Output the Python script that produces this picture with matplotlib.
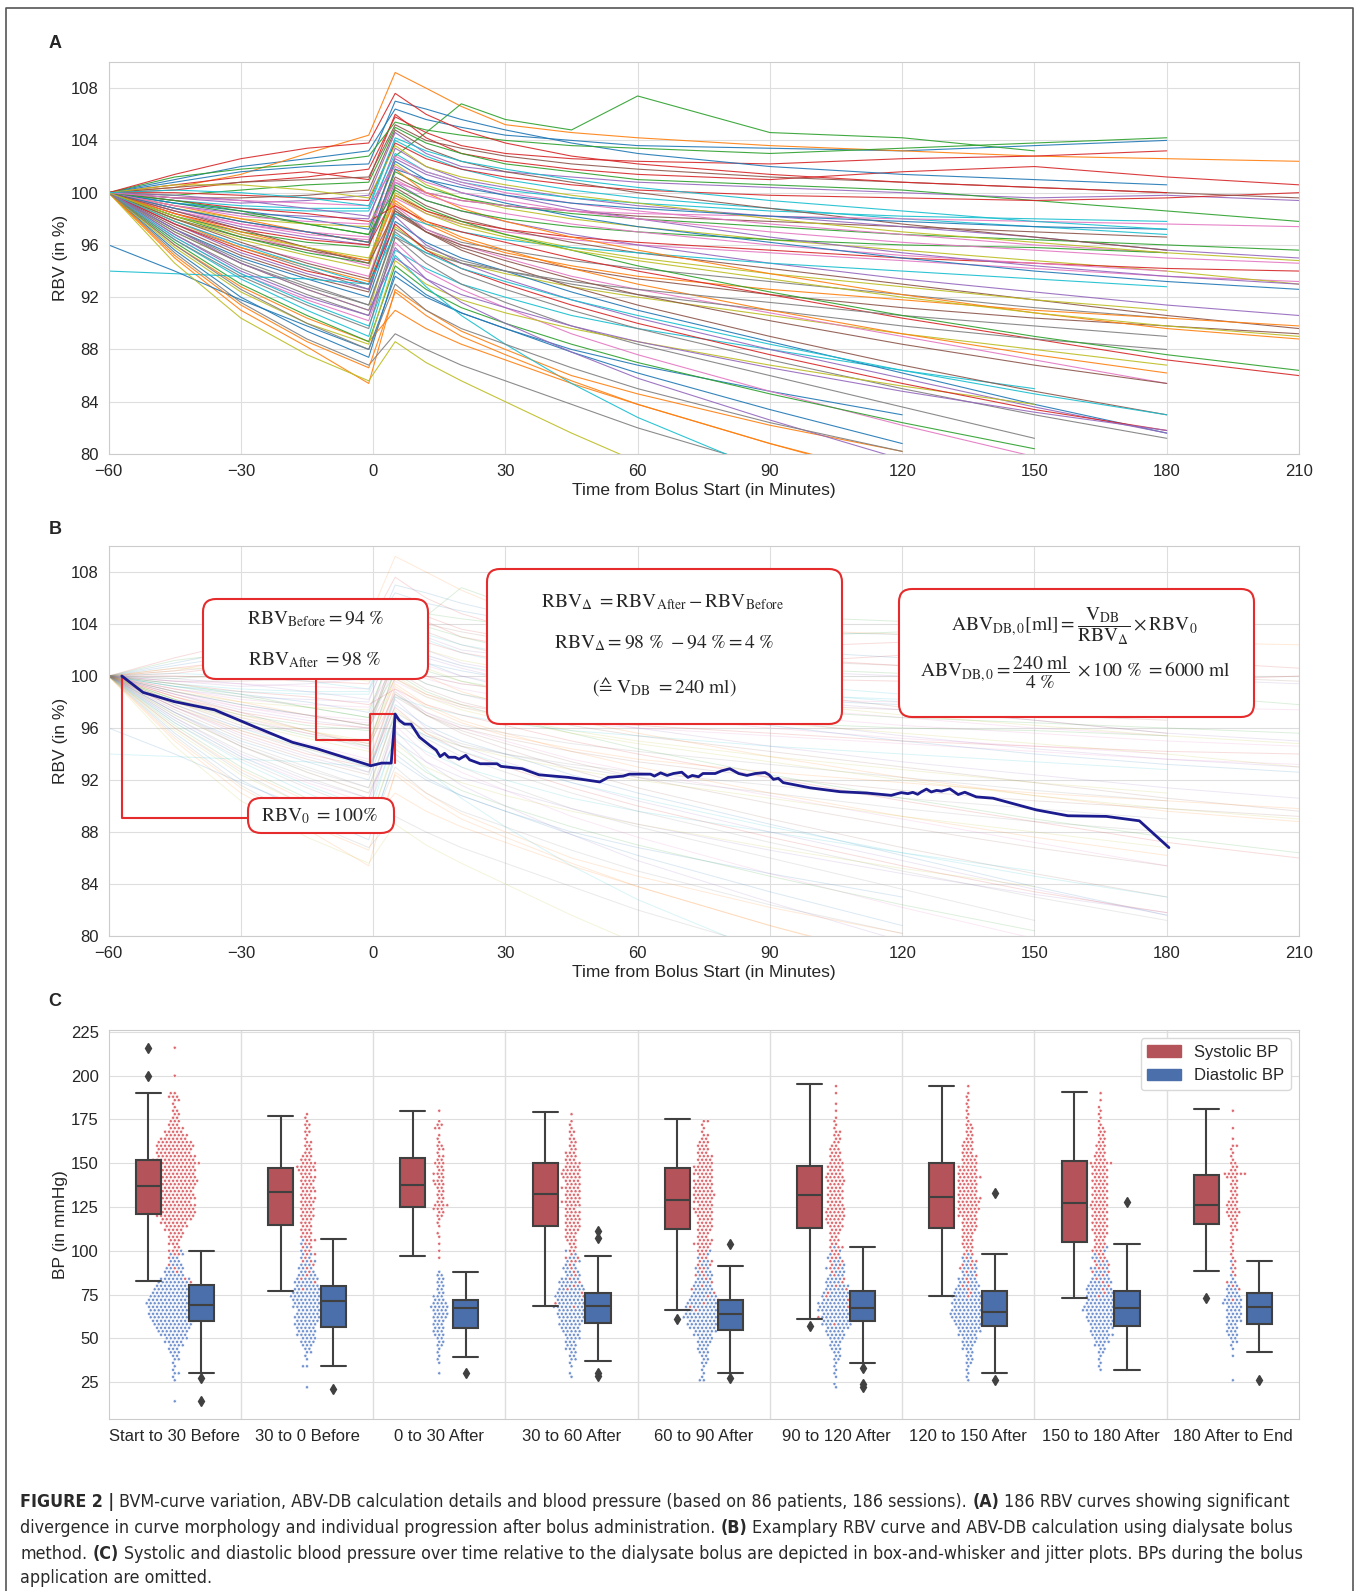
import numpy as np
import pandas as pd
import matplotlib
matplotlib.use("Agg")
import matplotlib.pyplot as plt
import seaborn as sns
from matplotlib import font_manager
from matplotlib.patches import FancyBboxPatch, Patch
from matplotlib.lines import Line2D

nan = np.nan
W, H = 1358, 1591

# RBV curves (panel A, grey background in B), values at these times
rbv_times = [-60, -45, -30, -15, -1, 5, 12, 20, 30, 45, 60, 90, 120, 150, 180, 210]
rbv_curves = [
    [100, 101.0, 102.0, 102.6, 103.2, 106.4, 105.6, 105.0, 104.4, 104.0, 103.6, 103.4, 103.2, 103.6, 104.0, nan],
    [100, 100.4, 101.4, 103.0, 104.4, 109.2, 108.0, 106.6, 105.2, 104.6, 104.2, 103.6, 103.2, 102.8, 102.6, 102.4],
    [100, 99.2, 98.4, 97.6, 96.8, 102.8, 104.6, 106.8, 105.6, 104.8, 107.4, 104.6, 104.2, 103.2, nan, nan],
    [100, 100.6, 101.2, 101.6, 101.0, 106.0, 104.2, 103.0, 102.4, 101.8, 101.4, 101.0, 101.6, 102.0, 101.2, 100.6],
    [100, 99.6, 99.2, 99.4, 99.8, 104.6, 103.0, 102.0, 101.6, 101.2, 100.8, 100.4, 100.0, 99.6, 99.8, 99.4],
    [100, 98.8, 97.8, 97.0, 96.2, 101.2, 100.0, 99.4, 99.0, 98.6, 98.2, 97.8, 97.4, 97.0, 96.6, nan],
    [100, 98.4, 96.8, 95.6, 94.4, 99.6, 98.4, 97.6, 97.0, 96.4, 96.0, 95.4, 94.8, 94.2, 93.6, 93.2],
    [100, 97.6, 95.8, 94.2, 92.6, 98.6, 97.2, 96.2, 95.6, 94.8, 94.2, 93.2, 92.2, 91.2, 90.4, nan],
    [100, 97.0, 94.6, 92.6, 91.0, 97.4, 95.6, 94.6, 93.8, 92.8, 92.0, 90.6, 89.2, 88.0, 86.8, nan],
    [100, 96.4, 93.4, 91.0, 89.0, 95.6, 94.2, 93.0, 92.0, 90.6, 89.6, 88.0, 86.4, 85.0, nan, nan],
    [100, 95.6, 92.0, 89.4, 87.4, 94.0, 92.2, 90.8, 89.6, 88.0, 86.8, 84.8, 83.0, nan, nan, nan],
    [100, 95.0, 91.0, 88.2, 85.4, 92.6, 91.0, 89.4, 88.0, 86.0, 84.6, 82.2, 80.2, nan, nan, nan],
    [100, 99.8, 100.2, 100.6, 100.8, 105.0, 103.8, 103.0, 102.2, 101.6, 101.0, 100.6, 100.2, 99.4, 98.6, 97.8],
    [100, 100.2, 100.8, 101.2, 101.8, 105.8, 104.6, 103.6, 103.0, 102.6, 102.4, 102.2, 102.6, 102.8, 103.2, nan],
    [100, 99.0, 98.4, 98.2, 98.0, 103.4, 102.0, 101.0, 100.4, 99.6, 99.0, 98.2, 97.4, 96.6, 95.6, 95.0],
    [100, 98.0, 96.6, 95.6, 94.8, 100.4, 99.0, 98.0, 97.2, 96.2, 95.4, 94.2, 93.0, 91.8, 90.6, 89.6],
    [100, 97.8, 96.0, 94.8, 93.6, 99.0, 97.2, 96.0, 95.0, 93.6, 92.6, 90.8, 89.0, 87.2, 85.4, nan],
    [100, 96.8, 94.2, 92.2, 90.6, 96.6, 94.6, 93.0, 91.6, 89.8, 88.4, 86.0, 83.6, 81.2, nan, nan],
    [100, 98.8, 98.0, 97.6, 97.4, 102.2, 100.6, 99.6, 98.8, 98.0, 97.4, 96.4, 95.6, 94.8, 94.0, 93.0],
    [100, 99.4, 99.0, 98.8, 98.8, 104.0, 102.8, 101.8, 101.0, 100.2, 99.6, 98.8, 98.0, 97.4, 96.8, nan],
    [100, 97.2, 95.0, 93.4, 92.0, 97.8, 96.2, 95.0, 94.0, 92.4, 91.0, 88.6, 86.2, 83.8, 81.6, nan],
    [100, 96.0, 92.8, 90.4, 88.6, 91.0, 89.6, 88.4, 87.2, 85.4, 83.8, 80.8, 78.0, nan, nan, nan],
    [100, 98.2, 97.0, 96.2, 95.8, 101.6, 100.4, 99.6, 99.0, 98.4, 98.0, 97.4, 96.8, 96.4, 96.0, 95.6],
    [100, 100.0, 99.8, 99.6, 99.4, 103.8, 102.6, 101.8, 101.2, 100.6, 100.2, 99.8, 99.6, 99.4, 99.6, 100.0],
    [100, 98.6, 97.4, 96.6, 96.0, 100.8, 99.4, 98.6, 97.8, 96.8, 96.0, 94.6, 93.4, 92.4, 91.4, 90.6],
    [100, 97.4, 95.2, 93.6, 92.4, 98.4, 97.0, 96.0, 95.2, 94.2, 93.4, 92.2, 91.2, 90.4, 89.8, 89.2],
    [100, 96.6, 93.8, 91.8, 90.2, 96.2, 94.0, 92.6, 91.2, 89.2, 87.6, 84.8, 82.2, 79.8, nan, nan],
    [100, 95.4, 91.6, 88.8, 86.8, 89.2, 88.0, 86.8, 85.6, 83.8, 82.0, 79.0, nan, nan, nan, nan],
    [100, 98.0, 96.4, 95.2, 94.2, 100.0, 98.6, 97.6, 96.8, 95.8, 95.0, 93.8, 92.8, 91.8, 91.0, nan],
    [100, 99.2, 98.8, 98.6, 98.6, 103.0, 101.6, 100.8, 100.2, 99.6, 99.2, 98.6, 98.2, 98.0, 97.8, nan],
    [100, 100.8, 101.6, 102.0, 102.2, 107.0, 106.4, 105.6, 104.8, 103.8, 103.0, 102.0, 101.4, 101.0, 100.6, nan],
    [100, 97.8, 95.8, 94.4, 93.2, 99.2, 97.6, 96.4, 95.4, 94.4, 93.6, 92.6, 91.8, 91.0, 90.4, 89.8],
    [100, 96.2, 93.0, 90.6, 88.6, 94.4, 92.6, 91.2, 90.0, 88.4, 87.0, 84.6, 82.4, 80.4, nan, nan],
    [100, 98.4, 97.2, 96.4, 96.0, 99.8, 98.6, 97.8, 97.2, 96.6, 96.2, 95.6, 95.0, 94.6, 94.2, 94.0],
    [100, 97.6, 95.4, 93.8, 92.6, 98.2, 96.0, 94.6, 93.4, 91.8, 90.4, 88.0, 85.8, 83.6, 81.6, nan],
    [100, 99.6, 99.6, 99.8, 100.2, 104.8, 103.4, 102.4, 101.6, 100.8, 100.0, 98.8, 97.6, 96.6, 95.6, nan],
    [100, 98.8, 97.6, 96.8, 96.4, 102.8, 101.6, 100.8, 100.0, 99.2, 98.6, 97.6, 96.8, 96.0, 95.4, nan],
    [100, 97.2, 94.8, 93.0, 91.4, 97.0, 95.2, 93.8, 92.6, 91.0, 89.6, 87.2, 85.0, 83.0, 81.2, nan],
    [100, 95.8, 92.4, 90.0, 88.4, 94.8, 93.0, 91.8, 90.8, 89.6, 88.6, 86.8, 85.2, 83.8, nan, nan],
    [94.0, 93.8, 93.6, 93.4, 93.0, 98.4, 97.6, 97.0, 96.4, 95.8, 95.4, 94.6, 94.0, 93.4, 92.8, nan],
    [96.0, 94.0, 91.8, 89.8, 88.0, 93.6, 92.0, 90.8, 89.6, 87.8, 86.2, 83.4, 80.8, nan, nan, nan],
    [100, 99.0, 98.0, 97.0, 96.2, 101.8, 100.0, 98.8, 97.8, 96.6, 95.6, 93.8, 92.2, 90.8, 89.6, 88.8],
    [100, 98.2, 96.6, 95.4, 94.6, 100.6, 99.4, 98.6, 98.0, 97.4, 97.0, 96.4, 96.0, 95.8, 95.4, nan],
    [100, 99.4, 98.8, 98.4, 97.8, 99.0, 97.8, 97.0, 96.2, 95.0, 94.0, 92.2, 90.4, 88.8, 87.2, 86.0],
    [100, 96.8, 94.0, 92.0, 90.6, 95.8, 93.4, 91.6, 90.0, 87.8, 85.8, 82.6, 79.6, nan, nan, nan],
    [100, 100.4, 100.8, 101.0, 101.2, 105.2, 104.0, 103.4, 102.8, 102.2, 101.8, 101.2, 100.8, 100.4, 100.0, 99.6],
    [100, 98.6, 97.6, 97.0, 96.6, 101.0, 99.8, 99.0, 98.4, 97.6, 97.0, 96.0, 95.2, 94.6, 94.0, nan],
    [100, 97.0, 94.6, 92.8, 91.4, 97.2, 95.8, 94.8, 94.0, 93.0, 92.2, 91.0, 89.8, 88.8, 88.0, nan],
    [100, 94.6, 90.4, 87.6, 85.6, 88.6, 87.0, 85.6, 84.0, 81.6, 79.4, nan, nan, nan, nan, nan],
    [100, 96.6, 93.8, 91.6, 89.8, 95.2, 92.8, 90.6, 88.4, 85.4, 82.8, 78.6, nan, nan, nan, nan],
    [100, 99.2, 98.6, 98.0, 97.2, 102.4, 101.0, 100.0, 99.2, 98.2, 97.4, 96.2, 95.0, 94.0, 93.2, 92.6],
    [100, 98.4, 97.0, 95.8, 94.8, 99.4, 97.8, 96.6, 95.6, 94.2, 93.0, 91.0, 89.2, 87.6, 86.2, nan],
    [100, 101.2, 101.8, 102.2, 102.8, 105.4, 104.8, 104.4, 104.0, 103.6, 103.4, 103.0, 103.4, 103.8, 104.2, nan],
    [100, 97.6, 95.6, 94.0, 93.0, 97.6, 95.6, 94.2, 93.0, 91.4, 90.0, 87.6, 85.4, 83.4, 81.8, nan],
    [100, 99.8, 99.4, 98.8, 98.2, 102.6, 101.4, 100.6, 99.8, 98.8, 98.0, 96.6, 95.4, 94.4, 93.6, 93.0],
    [100, 98.0, 96.2, 94.6, 93.4, 98.8, 97.0, 95.6, 94.4, 92.8, 91.4, 89.0, 86.8, 84.8, 83.0, nan],
    [100, 99.0, 98.2, 97.8, 97.6, 100.8, 100.0, 99.4, 99.0, 98.6, 98.4, 98.2, 98.0, 97.8, 97.6, 97.4],
    [100, 96.4, 93.6, 91.4, 89.6, 96.6, 95.4, 94.6, 94.0, 93.2, 92.6, 91.6, 90.6, 89.8, 89.0, nan],
    [100, 100.6, 100.6, 100.2, 99.6, 103.6, 102.0, 101.2, 100.6, 99.8, 99.2, 98.0, 97.0, 96.2, 95.4, 94.8],
    [100, 97.8, 96.0, 94.4, 93.0, 96.8, 95.4, 94.2, 93.2, 91.8, 90.6, 88.4, 86.4, 84.6, 83.0, nan],
    [100, 98.8, 97.8, 97.0, 96.2, 101.8, 101.0, 100.4, 99.8, 99.2, 98.8, 98.2, 97.8, 97.4, 97.2, nan],
    [100, 95.2, 91.4, 88.6, 86.6, 92.4, 90.6, 89.0, 87.6, 85.6, 83.8, 80.8, 78.2, nan, nan, nan],
    [100, 99.4, 98.6, 97.6, 96.8, 100.2, 98.8, 97.8, 96.8, 95.6, 94.4, 92.4, 90.6, 89.0, 87.6, 86.4],
    [100, 101.4, 102.6, 103.4, 103.8, 107.6, 106.0, 104.8, 103.8, 102.8, 102.2, 101.4, 100.8, 100.4, 100.0, nan],
    [100, 97.2, 94.6, 92.6, 91.0, 95.0, 93.4, 92.2, 91.2, 89.8, 88.6, 86.6, 84.8, 83.2, 81.8, nan],
    [100, 98.6, 97.2, 95.8, 94.6, 98.6, 97.0, 95.8, 94.8, 93.4, 92.2, 90.2, 88.4, 86.8, 85.4, nan],
    [100, 99.6, 99.4, 99.2, 99.0, 102.0, 100.8, 100.0, 99.4, 98.6, 98.0, 97.0, 96.2, 95.6, 95.0, 94.6],
    [100, 96.0, 92.6, 90.0, 88.0, 93.0, 91.0, 89.6, 88.4, 86.6, 85.0, 82.4, 80.2, nan, nan, nan],
    [100, 98.2, 96.8, 95.8, 95.0, 99.8, 98.4, 97.4, 96.6, 95.6, 94.8, 93.4, 92.0, 90.8, 89.8, 89.0],
    [100, 100.2, 100.0, 99.6, 99.0, 104.2, 103.2, 102.4, 101.8, 101.0, 100.4, 99.4, 98.6, 97.8, 97.2, nan],
]

# example curve (panel B)
ex_t = [-57, -52.2, -45.1, -36, -26.9, -18.3, -12.7, -0.5, 1.9, 4.1, 5.0, 5.9, 7.1, 8.6, 10.5,
        12.9, 14.3, 15.2, 16.2, 17.1, 18.6, 19.5, 21.0, 21.9, 24.3, 28.1, 29.0, 33.8, 37.6, 44.3,
        51.4, 53.3, 56.7, 58.1, 62.9, 63.8, 65.2, 66.7, 68.1, 70.0, 71.4, 72.4, 73.8, 74.8, 77.6,
        79.0, 80.9, 82.9, 84.8, 86.7, 88.9, 89.8, 90.8, 91.9, 93.0, 99.1, 105.9, 111.9, 117.5, 119.8,
        121.3, 122.4, 123.5, 124.3, 125.5, 126.6, 127.8, 128.9, 130.8, 132.7, 134.2, 136.8, 140.6,
        150.4, 157.6, 166.3, 173.8, 180.5]
ex_v = [100.0, 98.74, 98.03, 97.4, 96.1, 94.9, 94.4, 93.1, 93.3, 93.3, 97.07, 96.6, 96.3, 96.3, 95.3,
        94.65, 94.3, 93.8, 94.05, 93.75, 93.75, 93.6, 93.9, 93.55, 93.25, 93.25, 93.05, 92.87, 92.4, 92.2,
        91.85, 92.2, 92.3, 92.45, 92.45, 92.3, 92.55, 92.35, 92.5, 92.6, 92.2, 92.35, 92.25, 92.5, 92.5,
        92.7, 92.87, 92.5, 92.35, 92.5, 92.57, 92.4, 92.05, 92.13, 91.8, 91.4, 91.1, 91.0, 90.82, 91.03,
        90.95, 91.05, 90.9, 91.08, 91.3, 91.08, 91.2, 91.14, 91.32, 90.88, 91.06, 90.7, 90.6,
        89.7, 89.25, 89.2, 88.86, 86.8]

# panel C
periods = ["Start to 30 Before", "30 to 0 Before", "0 to 30 After", "30 to 60 After",
           "60 to 90 After", "90 to 120 After", "120 to 150 After", "150 to 180 After",
           "180 After to End"]

sys_med = [137, 133.6, 137.4, 132.6, 129.0, 131.7, 130.9, 127.1, 126.0]
sys_q1 = [120.9, 114.8, 124.9, 114.1, 112.6, 112.8, 112.8, 105.0, 115.2]
sys_q3 = [151.9, 147.0, 153.1, 150.0, 147.0, 148.5, 150.4, 151.0, 143.0]
sys_lo = [83.0, 77.0, 97.0, 68.3, 66.0, 60.9, 74.2, 73.0, 88.2]
sys_hi = [190.3, 176.9, 180.1, 179.0, 175.0, 195.1, 194.1, 190.9, 181.1]
sys_fliers = [[200, 216], [], [], [], [61], [57], [], [], [73]]

dia_med = [69.2, 71.1, 67.3, 68.3, 64.1, 67.2, 65.1, 67.2, 67.7]
dia_q1 = [60.0, 56.6, 55.6, 59.0, 54.7, 60.0, 57.1, 57.1, 58.1]
dia_q3 = [80.2, 79.8, 72.0, 76.0, 72.1, 77.0, 76.8, 77.0, 75.9]
dia_lo = [30.1, 34.2, 39.3, 37.1, 30.1, 36.1, 30.1, 32.0, 42.0]
dia_hi = [100.1, 106.9, 88.0, 97.0, 91.2, 102.0, 98.0, 103.9, 94.2]
dia_fliers = [[27.5, 14], [21], [30], [111.4, 107.1, 29.9, 28.5], [104, 27.2], [33.1, 24, 22.1],
              [133, 25.9], [127.9], [25.9]]

# jitter points: number of readings per 2 mmHg row, starting at *_start
sys_start = [82, 78, 96, 68, 62, 58, 74, 74, 72]
sys_counts = [
    [1, 1, 0, 1, 1, 1, 0, 1, 2, 3, 2, 3, 3, 4, 4, 5, 6, 7, 8, 10, 11, 10, 10, 9, 10, 10, 9, 10, 10, 12,
     11, 10, 11, 10, 12, 11, 10, 9, 9, 10, 9, 7, 6, 5, 4, 3, 3, 2, 2, 2, 1, 1, 2, 3, 2, 0, 0, 0, 0, 1,
     0, 0, 0, 0, 0, 0, 0, 1],
    [1, 0, 1, 1, 1, 1, 1, 1, 2, 1, 2, 2, 2, 2, 3, 3, 3, 3, 3, 3, 3, 4, 3, 4, 3, 4, 4, 3, 4, 4, 3, 4, 4,
     3, 5, 5, 4, 3, 3, 2, 2, 2, 2, 1, 1, 2, 1, 2, 1, 1, 1],
    [1, 0, 1, 0, 1, 0, 1, 1, 0, 1, 1, 1, 2, 2, 3, 4, 2, 2, 2, 2, 2, 3, 3, 2, 3, 2, 2, 3, 2, 2, 1, 2, 2,
     1, 1, 1, 0, 2, 2, 1, 0, 0, 1],
    [1, 1, 0, 1, 1, 1, 1, 1, 1, 1, 1, 1, 1, 2, 2, 1, 2, 2, 2, 3, 3, 3, 4, 4, 4, 4, 4, 4, 3, 4, 5, 4, 4,
     4, 5, 4, 4, 5, 5, 5, 4, 4, 3, 3, 3, 2, 2, 2, 2, 1, 2, 1, 1, 1, 0, 1],
    [1, 0, 1, 1, 1, 1, 1, 1, 1, 1, 1, 1, 2, 1, 2, 2, 2, 2, 2, 3, 3, 5, 4, 3, 3, 4, 4, 4, 4, 4, 5, 5, 4,
     5, 5, 6, 5, 5, 5, 5, 4, 5, 5, 5, 4, 4, 4, 3, 3, 3, 3, 2, 2, 1, 1, 1, 2],
    [1, 0, 1, 0, 1, 1, 1, 1, 1, 1, 1, 1, 1, 1, 1, 1, 2, 2, 2, 2, 2, 2, 3, 2, 3, 2, 3, 3, 4, 4, 5, 5, 5,
     5, 4, 4, 4, 4, 4, 4, 4, 5, 5, 4, 4, 4, 4, 3, 3, 3, 3, 2, 2, 2, 2, 2, 1, 1, 1, 1, 0, 1, 0, 1, 0, 0,
     1, 0, 1],
    [1, 1, 1, 1, 1, 1, 1, 1, 2, 2, 2, 1, 2, 2, 3, 3, 3, 3, 3, 4, 4, 4, 4, 5, 5, 6, 5, 6, 6, 5, 5, 5, 5,
     5, 6, 5, 5, 5, 4, 4, 4, 3, 3, 3, 3, 2, 2, 2, 2, 2, 1, 1, 1, 1, 1, 1, 1, 1, 1, 0, 1],
    [1, 1, 1, 1, 1, 1, 1, 2, 2, 2, 2, 2, 2, 3, 3, 3, 3, 3, 4, 4, 4, 4, 4, 4, 4, 4, 5, 4, 4, 4, 4, 4, 4,
     4, 4, 4, 4, 4, 7, 3, 3, 3, 2, 3, 2, 2, 2, 2, 2, 1, 1, 1, 1, 1, 1, 0, 1, 0, 1],
    [1, 0, 0, 1, 1, 1, 0, 1, 1, 1, 1, 1, 1, 1, 1, 1, 1, 1, 1, 1, 2, 2, 2, 2, 3, 4, 3, 3, 3, 2, 2, 2, 2,
     2, 2, 3, 6, 2, 2, 2, 1, 1, 1, 1, 2, 0, 1, 0, 0, 1, 0, 0, 0, 0, 1],
]
dia_start = [14, 22, 30, 28, 26, 22, 26, 32, 26]
dia_counts = [
    [1, 0, 0, 0, 0, 0, 1, 1, 2, 1, 1, 1, 2, 2, 3, 3, 4, 5, 6, 7, 8, 9, 10, 11, 12, 13, 13, 13, 14, 13,
     13, 12, 11, 10, 8, 7, 5, 4, 4, 3, 3, 2, 2, 1],
    [1, 0, 0, 0, 0, 0, 2, 0, 1, 1, 2, 2, 3, 4, 4, 5, 5, 5, 6, 6, 7, 6, 6, 7, 7, 7, 8, 7, 6, 6, 5, 5, 4,
     3, 3, 3, 2, 2, 2, 1, 1, 1, 1],
    [1, 0, 0, 1, 1, 1, 1, 1, 2, 2, 2, 3, 3, 3, 3, 3, 4, 4, 4, 5, 4, 3, 3, 2, 2, 2, 2, 2, 2, 1],
    [1, 1, 0, 1, 1, 2, 2, 2, 3, 3, 3, 4, 4, 5, 5, 6, 6, 7, 7, 7, 8, 8, 7, 7, 6, 6, 5, 5, 4, 3, 3, 3, 2,
     2, 2, 1, 1],
    [2, 1, 1, 1, 1, 2, 2, 2, 3, 3, 3, 4, 4, 5, 6, 7, 8, 8, 9, 9, 8, 8, 7, 7, 6, 5, 5, 4, 4, 3, 3, 3, 2,
     2, 2, 1, 1, 1],
    [1, 1, 0, 1, 1, 1, 1, 1, 2, 2, 2, 3, 3, 3, 4, 5, 5, 6, 7, 7, 8, 8, 8, 8, 8, 7, 6, 6, 5, 5, 4, 4, 3,
     3, 3, 2, 2, 2, 1, 1, 1],
    [1, 1, 1, 1, 1, 2, 2, 2, 2, 3, 3, 4, 4, 5, 6, 6, 7, 8, 8, 9, 9, 8, 8, 7, 7, 6, 5, 5, 4, 4, 3, 3, 3,
     2, 2, 2, 1],
    [1, 1, 1, 1, 1, 2, 2, 3, 4, 4, 6, 5, 6, 6, 7, 8, 8, 9, 8, 8, 7, 7, 6, 6, 5, 5, 4, 3, 3, 3, 2, 2, 2,
     1, 1, 1],
    [1, 0, 0, 0, 0, 0, 0, 1, 0, 1, 1, 2, 2, 3, 3, 3, 3, 4, 4, 4, 4, 4, 5, 4, 4, 3, 3, 2, 2, 1, 1, 0, 1,
     0, 1],
]

# style
sns.set_style("whitegrid", {"grid.color": ".87", "axes.edgecolor": ".8"})
plt.rcParams["font.family"] = ["Liberation Sans", "DejaVu Sans"]
plt.rcParams["mathtext.fontset"] = "stix"

fig = plt.figure(figsize=(W / 100, H / 100), dpi=100)
fig.patch.set_facecolor("white")


def px_axes(left, top, right, bottom):
    return fig.add_axes([left / W, 1 - bottom / H, (right - left) / W, (bottom - top) / H])


def style_time_axes(ax):
    ax.set_xlim(-60, 210)
    ax.set_ylim(80, 110)
    ax.set_xticks(range(-60, 211, 30))
    ax.set_yticks(range(80, 109, 4))
    ax.tick_params(labelsize=12, length=0, pad=7)
    ax.set_xlabel("Time from Bolus Start (in Minutes)", fontsize=12.5)
    ax.set_ylabel("RBV (in %)", fontsize=12.5)
    ax.xaxis.set_label_coords(0.5, -0.075)
    ax.yaxis.set_label_coords(-0.034, 0.5)


# ---- A ----
axA = px_axes(108.6, 62, 1299, 454)
t = np.array(rbv_times, dtype=float)
for c in rbv_curves:
    axA.plot(t, np.array(c, dtype=float), lw=0.8, alpha=0.9)
style_time_axes(axA)

# ---- B ----
axB = px_axes(108.6, 546, 1299, 936)
for c in rbv_curves:
    axB.plot(t, np.array(c, dtype=float), lw=0.7, alpha=0.16)
axB.plot(ex_t, ex_v, color="#1c1c8f", lw=2.0, zorder=5)
red = "#e52b2b"
axB.plot([-57, -57, -25], [100, 89.05, 89.05], color=red, lw=1.5, zorder=4)
axB.plot([-12.9, -12.9, -0.7], [99.9, 95.1, 95.1], color=red, lw=1.5, zorder=4)
axB.plot([-0.7, -0.7, 4.95, 4.95], [93.1, 97.07, 97.07, 93.3], color=red, lw=1.5, zorder=4)
style_time_axes(axB)


def box(x0, y0, x1, y1):
    p = FancyBboxPatch((x0 / 100, (H - y1) / 100), (x1 - x0) / 100, (y1 - y0) / 100,
                       boxstyle="round,pad=0,rounding_size=0.13", transform=fig.dpi_scale_trans,
                       facecolor="white", edgecolor=red, lw=1.5, zorder=10)
    fig.add_artist(p)


def mtext(x, y, s, size=14):
    fig.text(x / 100, (H - y) / 100, s, transform=fig.dpi_scale_trans, ha="center", va="center",
             fontsize=size, zorder=11)


box(248, 798, 394, 833)
box(203, 599, 428, 679)
box(487, 569, 842, 724)
box(899, 589, 1254, 717)
mtext(319, 816, r"$\mathrm{RBV}_0\ =100\%$")
mtext(316, 619, r"$\mathrm{RBV}_{\mathrm{Before}}=94\ \%$")
mtext(315, 660, r"$\mathrm{RBV}_{\mathrm{After}}\ =98\ \%$")
mtext(663, 602, r"$\mathrm{RBV}_{\Delta}\ =\mathrm{RBV}_{\mathrm{After}}-\mathrm{RBV}_{\mathrm{Before}}$")
mtext(664, 643, r"$\mathrm{RBV}_{\Delta}=98\ \%\ -94\ \%=4\ \%$")
mtext(664, 686, r"$(≙\ \mathrm{V}_{\mathrm{DB}}\ =240\ \mathrm{ml})$")
mtext(1074, 626, r"$\mathrm{ABV}_{\mathrm{DB,0}}[\mathrm{ml}]=\dfrac{\mathrm{V}_{\mathrm{DB}}}{\mathrm{RBV}_{\Delta}}\times\mathrm{RBV}_0$")
mtext(1075, 672, r"$\mathrm{ABV}_{\mathrm{DB,0}}=\dfrac{240\ \mathrm{ml}}{4\ \%}\ \times100\ \%\ =6000\ \mathrm{ml}$")

# ---- C ----
axC = px_axes(108.6, 1030, 1299, 1419)
rows = []
for i, p in enumerate(periods):
    for kind, start, counts in (("Systolic BP", sys_start[i], sys_counts[i]),
                                ("Diastolic BP", dia_start[i], dia_counts[i])):
        for k, n in enumerate(counts):
            rows += [(p, start + 2 * k, kind)] * n
df = pd.DataFrame(rows, columns=["period", "bp", "kind"])
sns.swarmplot(data=df, x="period", y="bp", hue="kind", order=periods,
              hue_order=["Systolic BP", "Diastolic BP"],
              palette={"Systolic BP": "#dc6a70", "Diastolic BP": "#7393cf"},
              size=2.3, linewidth=0.45, edgecolor="white", ax=axC, legend=False, zorder=1)

sys_col, dia_col, ec = "#b5535a", "#4b6faa", "#404040"
for col, off, med, q1, q3, lo, hi, fl in (
        (sys_col, -0.2, sys_med, sys_q1, sys_q3, sys_lo, sys_hi, sys_fliers),
        (dia_col, 0.2, dia_med, dia_q1, dia_q3, dia_lo, dia_hi, dia_fliers)):
    stats = [dict(med=med[i], q1=q1[i], q3=q3[i], whislo=lo[i], whishi=hi[i], fliers=fl[i])
             for i in range(len(periods))]
    axC.bxp(stats, positions=np.arange(len(periods)) + off, widths=0.19, capwidths=0.19,
            patch_artist=True, manage_ticks=False, zorder=3,
            boxprops=dict(facecolor=col, edgecolor=ec, lw=1.5),
            medianprops=dict(color=ec, lw=1.5),
            whiskerprops=dict(color=ec, lw=1.5),
            capprops=dict(color=ec, lw=1.5),
            flierprops=dict(marker="d", markerfacecolor=ec, markeredgecolor=ec, markersize=5))

axC.set_xlim(-0.5, len(periods) - 0.5)
axC.set_ylim(3.9, 226.1)
axC.set_yticks(range(25, 226, 25))
axC.set_xticks(range(len(periods)))
axC.set_xticklabels(periods)
axC.xaxis.grid(False)
for i in range(len(periods) - 1):
    axC.axvline(i + 0.5, color=".87", lw=1, zorder=0)
axC.tick_params(labelsize=12, length=0, pad=7)
axC.set_xlabel("")
axC.set_ylabel("BP (in mmHg)", fontsize=12.5)
axC.yaxis.set_label_coords(-0.034, 0.5)
axC.legend(handles=[Patch(facecolor=sys_col, edgecolor=sys_col, label="Systolic BP"),
                    Patch(facecolor=dia_col, edgecolor=dia_col, label="Diastolic BP")],
           loc="upper right", fontsize=12, frameon=True, framealpha=1, edgecolor=".85")

# panel letters
for letter, y in (("A", 44), ("B", 530), ("C", 1002)):
    fig.text(55 / W, 1 - y / H, letter, fontsize=13, fontweight="bold", ha="center", va="center")

# outer frame
fig.add_artist(Line2D([6 / W, 6 / W, 1353 / W, 1353 / W], [0, 1 - 8 / H, 1 - 8 / H, 0],
                      transform=fig.transFigure, color="#555555", lw=1.2))

# caption, in a condensed face when one is installed
names = {f.name for f in font_manager.fontManager.ttflist}
cond = [f for f in font_manager.fontManager.ttflist
        if f.name.startswith("DejaVu Sans") and "ondensed" in (f.name + str(f.stretch))]
cap_kw = dict(family=["Liberation Sans", "DejaVu Sans"])
if "Liberation Sans Narrow" in names:
    cap_kw = dict(family=["Liberation Sans Narrow", "DejaVu Sans"])
elif "DejaVu Sans Condensed" in names:
    cap_kw = dict(family=["DejaVu Sans Condensed", "DejaVu Sans"])
elif cond:
    cap_kw = dict(family=[cond[0].name], stretch="condensed")

caption = [
    [("FIGURE 2 |", True), ("BVM-curve variation, ABV-DB calculation details and blood pressure (based on 86 patients, 186 sessions).", False),
     ("(A)", True), ("186 RBV curves showing significant", False)],
    [("divergence in curve morphology and individual progression after bolus administration.", False),
     ("(B)", True), ("Examplary RBV curve and ABV-DB calculation using dialysate bolus", False)],
    [("method.", False), ("(C)", True),
     ("Systolic and diastolic blood pressure over time relative to the dialysate bolus are depicted in box-and-whisker and jitter plots. BPs during the bolus", False)],
    [("application are omitted.", False)],
]
cap_y = [1502, 1528, 1554, 1578]
renderer = fig.canvas.get_renderer()


def draw_line(parts, y, size, draw=True):
    x = 20.0
    probe = fig.text(0, 0, "a a", fontsize=size, **cap_kw)
    probe2 = fig.text(0, 0, "aa", fontsize=size, **cap_kw)
    sp = probe.get_window_extent(renderer=renderer).width - probe2.get_window_extent(renderer=renderer).width
    probe.remove()
    probe2.remove()
    arts = []
    for s, bold in parts:
        tx = fig.text(x / W, 1 - y / H, s, fontsize=size, color="#2a2a2a",
                      fontweight="bold" if bold else "normal", ha="left", va="center", **cap_kw)
        arts.append(tx)
        x += tx.get_window_extent(renderer=renderer).width + sp
    if not draw:
        for a in arts:
            a.remove()
    return x - sp - 20


w1 = draw_line(caption[0], cap_y[0], 12, draw=False)
w3 = draw_line(caption[2], cap_y[2], 12, draw=False)
cap_size = 12 * (1274 + 1270) / (w1 + w3)
for parts, y in zip(caption, cap_y):
    draw_line(parts, y, cap_size)

fig.savefig("out.png", dpi=100, facecolor="white")
